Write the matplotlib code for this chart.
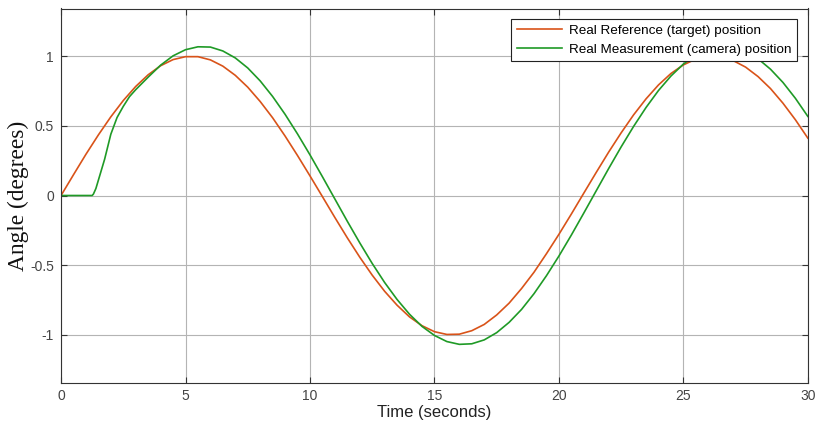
import matplotlib
matplotlib.use("Agg")
from matplotlib import pyplot as plt

# values (seconds, degrees)
t_ref = [0, 0.5, 1, 1.5, 2, 2.5, 3, 3.5, 4, 4.5, 5, 5.5, 6, 6.5, 7, 7.5, 8, 8.5, 9, 9.5,
         10, 10.5, 11, 11.5, 12, 12.5, 13, 13.5, 14, 14.5, 15, 15.5, 16, 16.5, 17, 17.5,
         18, 18.5, 19, 19.5, 20, 20.5, 21, 21.5, 22, 22.5, 23, 23.5, 24, 24.5, 25, 25.5,
         26, 26.5, 27, 27.5, 28, 28.5, 29, 29.5, 30]
y_ref = [0, 0.149, 0.296, 0.435, 0.565, 0.682, 0.783, 0.867, 0.932, 0.976, 0.997, 0.997,
         0.974, 0.929, 0.863, 0.778, 0.675, 0.558, 0.427, 0.287, 0.141, -0.008, -0.158,
         -0.304, -0.443, -0.572, -0.688, -0.788, -0.872, -0.935, -0.978, -0.998, -0.996,
         -0.971, -0.926, -0.858, -0.773, -0.668, -0.551, -0.418, -0.279, -0.133, 0.017,
         0.166, 0.312, 0.450, 0.579, 0.694, 0.794, 0.876, 0.938, 0.980, 0.999, 0.995,
         0.969, 0.922, 0.854, 0.768, 0.663, 0.544, 0.412]

t_meas = [0, 0.5, 1, 1.25, 1.3, 1.4, 1.5, 1.75, 2, 2.25, 2.5, 2.75, 3, 3.5, 4, 4.5, 5,
          5.5, 6, 6.5, 7, 7.5, 8, 8.5, 9, 9.5, 10, 10.5, 11, 11.5, 12, 12.5, 13, 13.5,
          14, 14.5, 15, 15.5, 16, 16.5, 17, 17.5, 18, 18.5, 19, 19.5, 20, 20.5, 21, 21.5,
          22, 22.5, 23, 23.5, 24, 24.5, 25, 25.5, 26, 26.5, 27, 27.5, 28, 28.5, 29, 29.5, 30]
y_meas = [0, 0, 0, 0, 0.01, 0.05, 0.11, 0.26, 0.44, 0.56, 0.64, 0.71, 0.76, 0.85, 0.936,
          1.003, 1.047, 1.068, 1.066, 1.038, 0.988, 0.916, 0.823, 0.711, 0.583, 0.442,
          0.292, 0.135, -0.025, -0.185, -0.340, -0.488, -0.625, -0.747, -0.853, -0.940,
          -1.005, -1.049, -1.069, -1.065, -1.037, -0.985, -0.911, -0.818, -0.705, -0.576,
          -0.435, -0.284, -0.126, 0.034, 0.194, 0.349, 0.496, 0.632, 0.754, 0.858, 0.944,
          1.008, 1.052, 1.069, 1.063, 1.035, 0.982, 0.907, 0.812, 0.698, 0.568]

labels = ["Real Reference (target) position", "Real Measurement (camera) position"]
x_ticks = [0, 5, 10, 15, 20, 25, 30]
y_ticks = [-1, -0.5, 0, 0.5, 1]
y_tick_labels = ["-1", "-0.5", "0", "0.5", "1"]

plt.rcParams["font.family"] = ["Liberation Sans", "DejaVu Sans"]

fig = plt.figure(figsize=(8.16, 4.25), dpi=100)
ax = fig.add_axes([0.0748, 0.1, 0.9152, 0.88])

ax.plot(t_ref, y_ref, color="#D95319", lw=1.2, label=labels[0])
ax.plot(t_meas, y_meas, color="#1F9A26", lw=1.2, label=labels[1])

ax.set_xlim(0, 30)
ax.set_ylim(-1.343, 1.343)
ax.set_xticks(x_ticks)
ax.set_yticks(y_ticks)
ax.set_yticklabels(y_tick_labels)
ax.grid(True, color="#b4b4b4", lw=0.8)
ax.set_axisbelow(True)
ax.tick_params(direction="in", length=4, labelsize=10, labelcolor="#444444",
               color="#333333", top=True, right=True, pad=5)
for s in ax.spines.values():
    s.set_color("#333333")
    s.set_linewidth(0.8)

ax.set_xlabel("Time (seconds)", fontsize=12, color="#222222", labelpad=1)
ax.set_ylabel("Angle (degrees)", fontsize=16.8, family="Liberation Serif",
              color="#111111", labelpad=1)

leg = ax.legend(loc="upper right", fontsize=9.7, handlelength=3.4, fancybox=False,
                framealpha=1, edgecolor="#222222", borderpad=0.4, labelspacing=0.45,
                borderaxespad=0.8, handletextpad=0.5)
leg.get_frame().set_linewidth(0.8)

fig.savefig("out.png", dpi=100)
